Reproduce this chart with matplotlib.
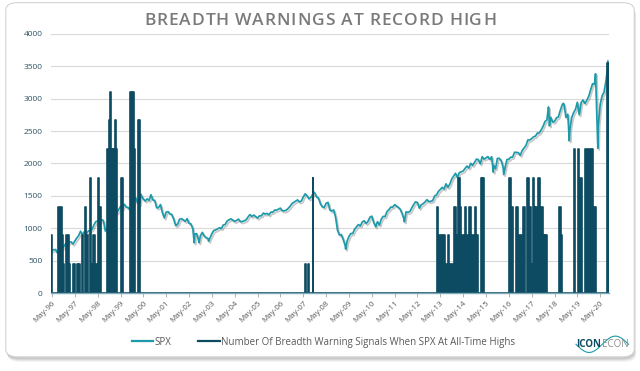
import matplotlib
matplotlib.use("Agg")
import matplotlib.pyplot as plt
import numpy as np
from matplotlib.patches import FancyBboxPatch
from matplotlib.lines import Line2D
import matplotlib.patheffects as pe

plt.rcParams["font.family"] = ["Open Sans", "DejaVu Sans"]

# S&P 500 month-end closes, Apr-96 .. Aug-20
spx_first_month = 1996 + 3 / 12  # Apr-96 close sits at May 1st
spx_monthly = [
    654,
    670, 670, 640, 651, 687, 705, 757, 740,
    786, 790, 757, 801, 848, 885, 954, 899, 947, 915, 955, 970,
    980, 1049, 1101, 1111, 1090, 1133, 1120, 957, 1017, 1098, 1163, 1229,
    1279, 1238, 1286, 1335, 1301, 1372, 1328, 1320, 1282, 1362, 1389, 1469,
    1394, 1366, 1498, 1452, 1420, 1454, 1430, 1517, 1436, 1429, 1315, 1320,
    1366, 1240, 1160, 1249, 1256, 1224, 1211, 1134, 1041, 1060, 1139, 1148,
    1130, 1107, 1147, 1076, 1067, 990, 912, 916, 815, 886, 936, 880,
    856, 841, 848, 917, 964, 975, 990, 1008, 996, 1051, 1058, 1112,
    1131, 1145, 1126, 1107, 1121, 1141, 1102, 1104, 1115, 1130, 1174, 1212,
    1181, 1204, 1181, 1157, 1192, 1191, 1234, 1220, 1229, 1207, 1249, 1248,
    1280, 1281, 1295, 1311, 1270, 1270, 1277, 1304, 1336, 1378, 1401, 1418,
    1438, 1407, 1421, 1482, 1531, 1503, 1455, 1474, 1527, 1549, 1481, 1468,
    1379, 1331, 1323, 1386, 1400, 1280, 1267, 1283, 1166, 969, 896, 903,
    826, 735, 798, 873, 919, 919, 987, 1021, 1057, 1036, 1096, 1115,
    1074, 1104, 1169, 1187, 1089, 1031, 1102, 1049, 1141, 1183, 1181, 1258,
    1286, 1327, 1326, 1364, 1345, 1321, 1292, 1219, 1131, 1253, 1247, 1258,
    1312, 1366, 1408, 1398, 1310, 1362, 1379, 1407, 1441, 1412, 1416, 1426,
    1498, 1515, 1569, 1598, 1631, 1606, 1686, 1633, 1682, 1757, 1806, 1848,
    1783, 1859, 1872, 1884, 1924, 1960, 1931, 2003, 1972, 2018, 2068, 2059,
    1995, 2105, 2068, 2086, 2107, 2063, 2104, 1972, 1920, 2079, 2080, 2044,
    1940, 1932, 2060, 2065, 2097, 2099, 2174, 2171, 2168, 2126, 2199, 2239,
    2279, 2364, 2363, 2384, 2412, 2423, 2470, 2472, 2519, 2575, 2648, 2674,
    2824, 2714, 2641, 2648, 2705, 2718, 2816, 2902, 2914, 2712, 2760, 2507,
    2704, 2784, 2834, 2946, 2752, 2942, 2980, 2926, 2977, 3038, 3141, 3231,
    3226, 2954, 2585, 2912, 3044, 3100, 3271, 3500,
]
# intra-month highs / lows visible on the chart (decimal year, level)
spx_extra_x = [1996.55, 1998.77, 2000.23, 2002.56, 2002.77, 2003.19, 2007.77,
               2009.19, 2010.50, 2011.76, 2015.65, 2016.11, 2018.07, 2018.11,
               2018.72, 2018.98, 2020.13, 2020.23, 2020.67]
spx_extra_y = [626, 959, 1527, 776, 777, 800, 1565,
               677, 1022, 1099, 1867, 1829, 2873, 2581,
               2930, 2351, 3386, 2237, 3580]

# breadth-warning episodes: start, end (decimal year), number of signals
sig_start = [1996.30, 1996.61, 1996.75, 1996.80, 1996.93, 1997.09, 1997.26,
             1997.43, 1997.50, 1997.65, 1997.77, 1997.81, 1997.99, 1998.06,
             1998.13, 1998.26, 1998.35, 1998.41, 1998.76, 1998.82, 1998.86,
             1998.93, 1999.02, 1999.08, 1999.14, 1999.37, 1999.77, 1999.83,
             1999.87, 1999.93, 2000.10,
             2007.41, 2007.54, 2007.74,
             2013.18, 2013.24, 2013.43, 2013.60, 2013.67, 2013.72, 2013.95,
             2014.02, 2014.13, 2014.19, 2014.25, 2014.40, 2014.46, 2014.61,
             2014.67, 2014.84, 2014.90, 2015.12, 2015.17,
             2016.35, 2016.45, 2016.66, 2016.75, 2016.95, 2017.15, 2017.23,
             2017.30, 2017.38, 2017.44, 2017.47, 2017.61, 2017.68, 2017.75,
             2017.82, 2017.90, 2018.55, 2018.61,
             2019.18, 2019.35, 2019.42, 2019.66, 2020.00, 2020.64]
sig_end = [1996.33, 1996.75, 1996.80, 1996.84, 1997.09, 1997.12, 1997.32,
           1997.48, 1997.55, 1997.71, 1997.81, 1997.90, 1998.03, 1998.11,
           1998.22, 1998.31, 1998.40, 1998.49, 1998.82, 1998.86, 1998.93,
           1999.00, 1999.08, 1999.14, 1999.20, 1999.44, 1999.83, 1999.87,
           1999.93, 1999.96, 2000.17,
           2007.47, 2007.60, 2007.78,
           2013.24, 2013.40, 2013.52, 2013.67, 2013.72, 2013.95, 2014.02,
           2014.13, 2014.19, 2014.25, 2014.40, 2014.46, 2014.61, 2014.67,
           2014.84, 2014.90, 2015.00, 2015.17, 2015.26,
           2016.45, 2016.50, 2016.75, 2016.98, 2017.04, 2017.23, 2017.30,
           2017.38, 2017.44, 2017.47, 2017.61, 2017.68, 2017.75, 2017.82,
           2017.90, 2018.00, 2018.61, 2018.66,
           2019.25, 2019.42, 2019.54, 2020.00, 2020.13, 2020.70]
sig_count = [2, 3, 2, 1, 2, 1, 1,
             1, 1, 2, 3, 2, 4, 1,
             2, 1, 4, 3, 5, 6, 7,
             5, 5, 6, 5, 4, 7, 6,
             7, 5, 6,
             1, 1, 4,
             3, 2, 2, 1, 2, 1, 3,
             2, 4, 3, 2, 3, 2, 3,
             2, 3, 2, 4, 4,
             4, 3, 3, 2, 3, 4, 3,
             1, 4, 3, 3, 4, 2, 3,
             2, 2, 3, 2,
             5, 5, 4, 5, 3, 8]

tick_years = list(range(96, 100)) + list(range(0, 21))
tick_labels = ["May-%02d" % y for y in tick_years]

TITLE = "BREADTH WARNINGS AT RECORD HIGH"
SPX_C = "#1c9aa9"
BAR_C = "#0c4b61"
GRID_C = "#d9d9d9"

fig = plt.figure(figsize=(6.4, 3.71), dpi=100)
fig.patch.set_facecolor("white")

# card with soft shadow
for i, a in enumerate([0.05, 0.07, 0.10]):
    off = (3 - i) * 0.0035
    fig.add_artist(FancyBboxPatch((0.009 + off * 0.3, 0.035 - off), 0.982, 0.955,
                                  boxstyle="round,pad=0,rounding_size=0.02",
                                  transform=fig.transFigure, facecolor="#000000",
                                  edgecolor="none", alpha=a, zorder=0))
fig.add_artist(FancyBboxPatch((0.009, 0.038), 0.982, 0.955,
                              boxstyle="round,pad=0,rounding_size=0.02",
                              transform=fig.transFigure, facecolor="white",
                              edgecolor="#d4d4d4", linewidth=0.8, zorder=0))

ax = fig.add_axes([0.0797, 0.2102, 0.8719, 0.6982])
ax.set_facecolor("none")

# signals: drawn on a hidden 0..9 scale that maps onto the 0..4000 axis
scale = 4000 / 9
bx, by = [], []
for s, e, c in zip(sig_start, sig_end, sig_count):
    bx += [s, s, e, e]
    by += [0, c * scale, c * scale, 0]
ax.fill_between(bx, by, 0, color=BAR_C, linewidth=0, zorder=3)
ax.plot(bx, by, color=BAR_C, linewidth=1.2, zorder=3)

# SPX line
mx = spx_first_month + np.arange(len(spx_monthly)) / 12 + 1 / 12
sx = np.concatenate([mx, spx_extra_x])
sy = np.concatenate([spx_monthly, spx_extra_y])
order = np.argsort(sx)
sx, sy = sx[order], sy[order]
ax.plot(sx, sy, color=SPX_C, linewidth=1.25, zorder=2,
        path_effects=[pe.SimpleLineShadow(offset=(1.0, -1.3), shadow_color="#777777",
                                          alpha=0.4), pe.Normal()])

ax.set_xlim(1996.29, 2020.72)
ax.set_ylim(0, 4000)
ax.set_yticks(range(0, 4001, 500))
ax.set_xticks([1996 + 4 / 12 + k for k in range(len(tick_labels))])
ax.set_xticklabels(tick_labels, rotation=45, ha="right", rotation_mode="anchor",
                   fontsize=5.8, color="#595959")
ax.tick_params(axis="y", length=0, labelsize=6, labelcolor="#2e5466", pad=6)
ax.tick_params(axis="x", length=3, width=0.6, color="#a6a6a6", pad=2)
ax.grid(axis="y", color=GRID_C, linewidth=0.8)
ax.set_axisbelow(True)
for side in ("top", "right", "left"):
    ax.spines[side].set_visible(False)
ax.spines["bottom"].set_color("#7fa9b5")
ax.spines["bottom"].set_linewidth(1.0)
ax.spines["bottom"].set_zorder(4)

# letter-spaced title, laid out one glyph at a time
renderer = fig.canvas.get_renderer()
tkw = dict(fontsize=12.5, fontweight="semibold", color="#7a7a7a")


def _w(s):
    t = fig.text(0, 0, s + "|", **tkw)
    w = t.get_window_extent(renderer).width
    t.remove()
    return w


bar_w = _w("")
spacing = 1.0  # px between glyphs
total = _w(TITLE) - bar_w + spacing * (len(TITLE) - 1)
x0 = 320 - total / 2
for i, ch in enumerate(TITLE):
    px = x0 + _w(TITLE[:i]) - bar_w + spacing * i
    fig.text(px / 640, 0.944, ch, ha="left", va="center", **tkw)

handles = [Line2D([], [], color=SPX_C, linewidth=1.6),
           Line2D([], [], color=BAR_C, linewidth=1.6)]
fig.legend(handles, ["SPX", "Number Of Breadth Warning Signals When SPX At All-Time Highs"],
           loc="center", bbox_to_anchor=(0.505, 0.078), ncol=2, frameon=False,
           fontsize=7, labelcolor="#595959", handlelength=2.2, handletextpad=0.1,
           columnspacing=2.8)

# logo
fig.text(0.900, 0.072, "ICON", ha="left", va="center", fontsize=7,
         fontweight="bold", color="#0c4b61")
fig.text(0.940, 0.072, "ECON", ha="left", va="center", fontsize=7, color="#8c8c8c")
wx = np.linspace(0.9, 0.982, 60)
fig.add_artist(Line2D(wx, 0.072 + 0.022 * np.sin((wx - 0.9) / 0.082 * 2 * np.pi + np.pi),
                      transform=fig.transFigure, color="#1c9aa9", linewidth=0.8))

fig.savefig("out.png", dpi=100)
